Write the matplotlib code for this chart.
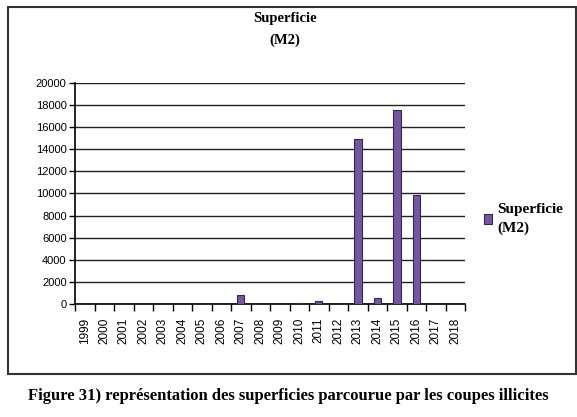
import numpy as np
import matplotlib
matplotlib.use("Agg")
import matplotlib.pyplot as plt
from matplotlib.patches import Rectangle

years = [str(y) for y in range(1999, 2019)]
superficie = [0, 0, 0, 0, 0, 0, 0, 0, 800, 0, 0, 100, 250, 0, 14900, 500, 17600, 9900, 0, 0]
yticks = list(range(0, 20001, 2000))

serif = "Liberation Serif"
sans = "Liberation Sans"

fig = plt.figure(figsize=(5.77, 4.17), dpi=100)
ax = fig.add_axes([0.130, 0.271, 0.676, 0.530])

x = np.arange(len(years))
bars = ax.bar(x, superficie, width=0.38, color="#7457A0", edgecolor="#35264f",
              linewidth=0.8, label="Superficie\n(M2)", zorder=3)

ax.set_xlim(-0.5, len(years) - 0.5)
ax.set_ylim(0, 20000)
ax.set_yticks(yticks)
ax.set_yticklabels([str(t) for t in yticks], fontsize=8, family=sans)
ax.set_xticks(x)
ax.set_xticklabels(years, rotation=90, fontsize=8.5, family=sans)
ax.tick_params(axis="x", length=0, pad=10)
ax.set_xticks(np.arange(-0.5, len(years)), minor=True)
ax.tick_params(axis="x", which="minor", length=5, width=1, direction="out")
ax.tick_params(axis="y", length=4, width=1, direction="out", pad=2)

ax.grid(axis="y", color="#222222", linewidth=1, zorder=0)
for side in ["top", "right"]:
    ax.spines[side].set_visible(False)
ax.spines["left"].set_linewidth(1.2)
ax.spines["bottom"].set_linewidth(1.2)

fig.text(0.494, 0.955, "Superficie", ha="center", va="center", fontsize=10.5,
         fontweight="bold", family=serif)
fig.text(0.494, 0.903, "(M2)", ha="center", va="center", fontsize=10.5,
         fontweight="bold", family=serif)

leg = fig.legend(handles=[bars], labels=["Superficie\n(M2)"], loc="upper left",
                 bbox_to_anchor=(0.815, 0.545), frameon=False, handlelength=0.55,
                 handleheight=0.55, handletextpad=0.3, alignment="left",
                 prop={"family": serif, "weight": "bold", "size": 11})
for t in leg.get_texts():
    t.set_linespacing(1.5)

# frame around the chart
fig.patches.append(Rectangle((0.014, 0.103), 0.985, 0.880, transform=fig.transFigure,
                             fill=False, edgecolor="#333333", linewidth=1.5))

fig.text(0.5, 0.050, "Figure 31) représentation des superficies parcourue par les coupes illicites",
         ha="center", va="center", fontsize=12, fontweight="bold", family=serif)

fig.savefig("out.png", dpi=100)
